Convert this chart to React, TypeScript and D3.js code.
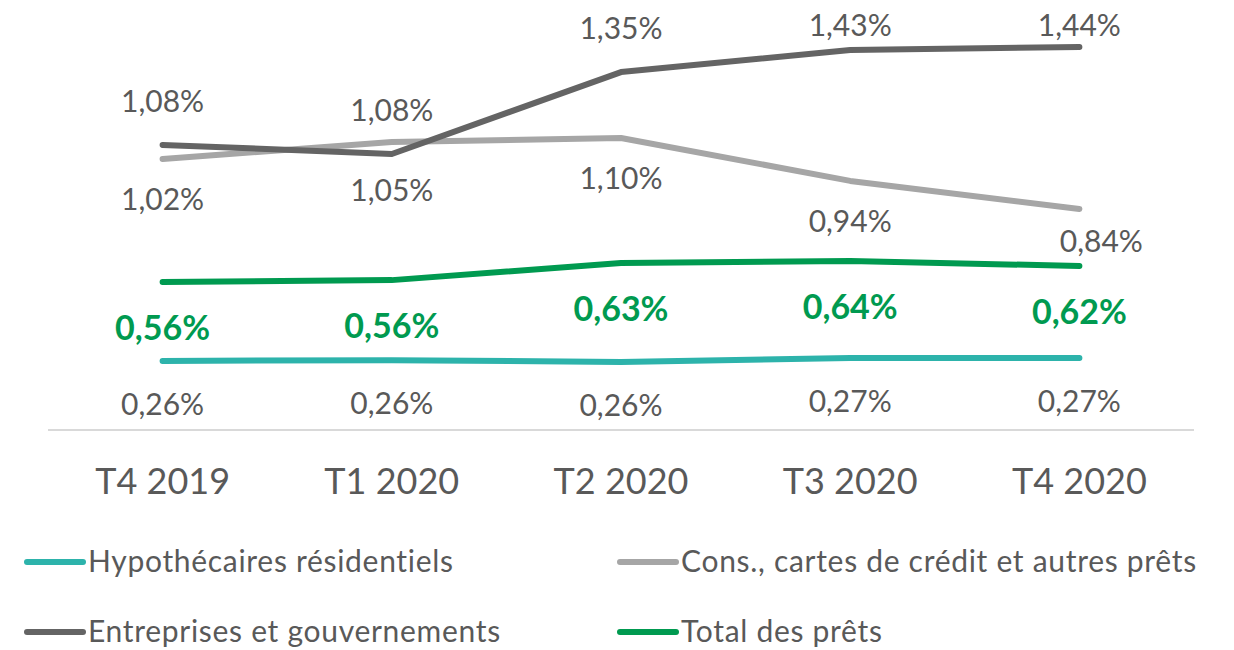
import React from "react";
import { scalePoint, scaleLinear, line } from "d3";

const quarters = ["T4 2019", "T1 2020", "T2 2020", "T3 2020", "T4 2020"];

const hypoValues = [0.259, 0.262, 0.255, 0.27, 0.27];
const hypoLabels = ["0,26%", "0,26%", "0,26%", "0,27%", "0,27%"];
const consValues = [1.016, 1.08, 1.095, 0.934, 0.829];
const consLabels = ["1,02%", "1,05%", "1,10%", "0,94%", "0,84%"];
const entValues = [1.069, 1.035, 1.342, 1.425, 1.436];
const entLabels = ["1,08%", "1,08%", "1,35%", "1,43%", "1,44%"];
const totalValues = [0.555, 0.562, 0.626, 0.634, 0.615];
const totalLabels = ["0,56%", "0,56%", "0,63%", "0,64%", "0,62%"];

const W = 1234;
const H = 650;
const FONT = "Lato, 'Open Sans', sans-serif";
const TEXT = "#595959";

const series = [
  { name: "Hypothécaires résidentiels", values: hypoValues, labels: hypoLabels, color: "#2DB3AB", dy: 54, bold: false },
  { name: "Cons., cartes de crédit et autres prêts", values: consValues, labels: consLabels, color: "#A6A6A6", dy: 51, bold: false },
  { name: "Entreprises et gouvernements", values: entValues, labels: entLabels, color: "#646464", dy: -33, bold: false },
  { name: "Total des prêts", values: totalValues, labels: totalLabels, color: "#009A50", dy: 58, bold: true },
];

export default function App() {
  const x = scalePoint<string>().domain(quarters).range([48, 1194]).padding(0.5);
  const y = scaleLinear().domain([0, 1.6]).range([430, 3.3]);

  const path = line<number>()
    .x((_, i) => x(quarters[i]) as number)
    .y((d) => y(d));

  // draw order: light gray under dark gray
  const drawOrder = [1, 2, 0, 3];

  const legendPos = [
    { x: 27, y: 562 },
    { x: 620, y: 562 },
    { x: 27, y: 632 },
    { x: 620, y: 632 },
  ];

  return (
    <svg
      width={W}
      height={H}
      style={{ position: "absolute", left: 0, top: 0, background: "#fff" }}
      fontFamily={FONT}
    >
      <line x1={48} x2={1194} y1={430} y2={430} stroke="#D9D9D9" strokeWidth={2} />

      {drawOrder.map((si) => {
        const s = series[si];
        return (
          <path
            key={s.name}
            d={path(s.values) || ""}
            fill="none"
            stroke={s.color}
            strokeWidth={6}
            strokeLinecap="round"
            strokeLinejoin="round"
          />
        );
      })}

      {series.map((s, si) =>
        s.values.map((v, i) => {
          let ly = y(v) + s.dy;
          let lx = x(quarters[i]) as number;
          if (si === 2) ly = Math.max(ly, 36);
          if (si === 1 && i === 4) {
            lx += 22;
            ly -= 8;
          }
          if (si === 1 && i === 1) ly += 8;
          return (
            <text
              key={s.name + i}
              x={lx}
              y={ly}
              textAnchor="middle"
              fontSize={s.bold ? 34 : 30}
              fontWeight={s.bold ? 700 : 400}
              fill={s.bold ? s.color : TEXT}
            >
              {s.labels[i]}
            </text>
          );
        })
      )}

      {quarters.map((q) => (
        <text
          key={q}
          x={x(q) as number}
          y={494}
          textAnchor="middle"
          fontSize={36}
          fill={TEXT}
        >
          {q}
        </text>
      ))}

      {series.map((s, i) => {
        const p = legendPos[i];
        return (
          <g key={s.name} transform={`translate(${p.x},${p.y})`}>
            <line x1={0} x2={56} y1={0} y2={0} stroke={s.color} strokeWidth={6} strokeLinecap="round" />
            <text x={61} y={10} fontSize={30} letterSpacing={0.7} fill={TEXT}>
              {s.name}
            </text>
          </g>
        );
      })}
    </svg>
  );
}
